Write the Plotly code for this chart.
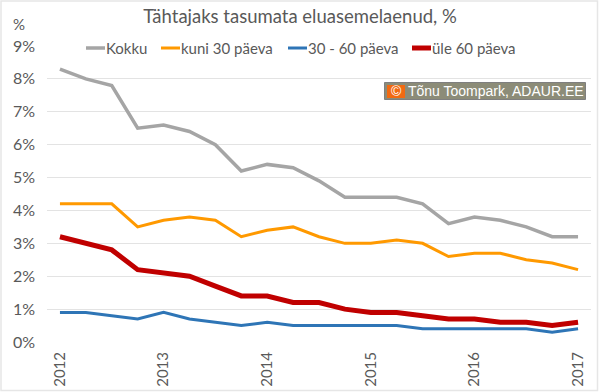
import plotly.graph_objects as go

quarters = list(range(21))
year_ticks = [0, 4, 8, 12, 16, 20]
year_labels = ["2012", "2013", "2014", "2015", "2016", "2017"]
y_ticks = list(range(10))
y_labels = [f"{v}%" for v in y_ticks]

kokku = [8.3, 8.0, 7.8, 6.5, 6.6, 6.4, 6.0, 5.2, 5.4, 5.3, 4.9, 4.4, 4.4, 4.4, 4.2, 3.6, 3.8, 3.7, 3.5, 3.2, 3.2]
kuni30 = [4.2, 4.2, 4.2, 3.5, 3.7, 3.8, 3.7, 3.2, 3.4, 3.5, 3.2, 3.0, 3.0, 3.1, 3.0, 2.6, 2.7, 2.7, 2.5, 2.4, 2.2]
p30_60 = [0.9, 0.9, 0.8, 0.7, 0.9, 0.7, 0.6, 0.5, 0.6, 0.5, 0.5, 0.5, 0.5, 0.5, 0.4, 0.4, 0.4, 0.4, 0.4, 0.3, 0.4]
yle60 = [3.2, 3.0, 2.8, 2.2, 2.1, 2.0, 1.7, 1.4, 1.4, 1.2, 1.2, 1.0, 0.9, 0.9, 0.8, 0.7, 0.7, 0.6, 0.6, 0.5, 0.6]

FONT = "Lato"
GREY = "#595959"
series = [
    ("Kokku", kokku, "#A5A5A5", 3.5, 86),
    ("kuni 30 päeva", kuni30, "#FF9900", 3, 161),
    ("30 - 60 päeva", p30_60, "#2E75B6", 3, 288),
    ("üle 60 päeva", yle60, "#C00000", 5, 412),
]

W, H = 600, 392
L, R, T, B = 47, 9, 46, 50
def px(x):
    return (x - L) / (W - L - R)
def py(y):
    return 1 - (y - T) / (H - T - B)

fig = go.Figure()
for name, vals, col, w, _ in series:
    fig.add_trace(go.Scatter(x=quarters, y=vals, name=name, mode="lines",
                             line=dict(color=col, width=w, shape="linear")))

shapes = [dict(type="rect", xref="paper", yref="paper", x0=px(1), x1=px(597.5), y0=py(1), y1=py(390.5),
               line=dict(width=1.5, color="#E6E6E6"), layer="below")]
annotations = [
    dict(text="%", xref="paper", yref="paper", x=px(19), y=py(24), xanchor="center", yanchor="middle",
         showarrow=False, font=dict(size=15, color=GREY)),
]
for name, vals, col, w, x0 in series:
    shapes.append(dict(type="line", xref="paper", yref="paper", x0=px(x0), x1=px(x0 + 19), y0=py(48), y1=py(48),
                       line=dict(color=col, width=w)))
    annotations.append(dict(text=name, xref="paper", yref="paper", x=px(x0 + 19), y=py(48), xanchor="left",
                            yanchor="middle", xshift=-1, showarrow=False, font=dict(size=15, color=GREY)))
# watermark
shapes += [
    dict(type="rect", xref="paper", yref="paper", x0=px(384.5), x1=px(585.5), y0=py(82.5), y1=py(99.5),
         fillcolor="#8C8C78", line=dict(color="#7F7F7F", width=1)),
    dict(type="rect", xref="paper", yref="paper", x0=px(387), x1=px(405), y0=py(85), y1=py(98),
         fillcolor="#F26A12", line=dict(width=0)),
]
annotations += [
    dict(text="©", xref="paper", yref="paper", x=px(396), y=py(91), xanchor="center", yanchor="middle",
         showarrow=False, font=dict(size=14, color="white", family="Liberation Sans")),
    dict(text="Tõnu Toompark, ADAUR.EE", xref="paper", yref="paper", x=px(406), y=py(91), xanchor="left",
         yanchor="middle", showarrow=False, font=dict(size=14, color="white", family="Liberation Sans")),
]

fig.update_layout(
    width=W, height=H,
    margin=dict(l=L, r=R, t=T, b=B),
    paper_bgcolor="white", plot_bgcolor="white",
    font=dict(family=FONT, color=GREY, size=15),
    title=dict(text="Tähtajaks tasumata eluasemelaenud, %", x=0.5, xanchor="center",
               xref="container", y=1 - 17 / H, yanchor="middle", font=dict(size=18.5, color=GREY, family=FONT)),
    showlegend=False,
    xaxis=dict(range=[-0.5, 20.5], tickmode="array", tickvals=year_ticks, ticktext=year_labels,
               tickangle=-90, showgrid=False, zeroline=False, showline=False, ticks="", automargin=False,
               ticklabelstandoff=6, tickfont=dict(size=15, color=GREY)),
    yaxis=dict(range=[0, 9], tickmode="array", tickvals=y_ticks, ticktext=y_labels, automargin=False,
               showgrid=True, gridcolor="#E3E3E3", gridwidth=1, zeroline=False, showline=False,
               ticks="", ticklabelstandoff=11, tickfont=dict(size=16, color=GREY)),
    annotations=annotations,
    shapes=shapes,
)
fig.write_html("out.html", config=dict(displayModeBar=False), post_script="document.body.style.margin='0';")
